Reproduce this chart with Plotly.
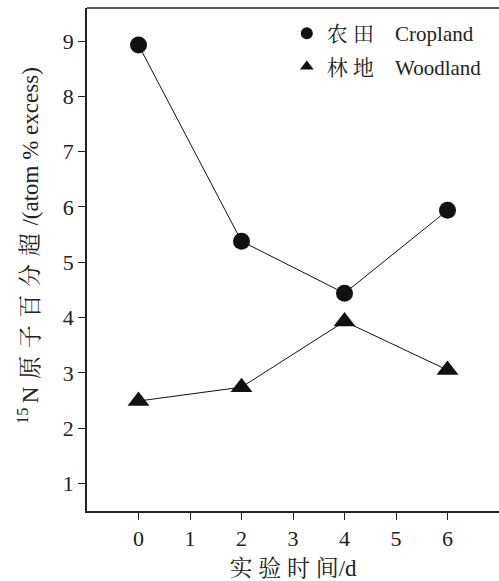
import plotly.graph_objects as go

days = [0, 2, 4, 6]
cropland = [8.93, 5.38, 4.44, 5.94]
woodland = [2.49, 2.74, 3.93, 3.05]
x_ticks = [0, 1, 2, 3, 4, 5, 6]
y_ticks = [1, 2, 3, 4, 5, 6, 7, 8, 9]
names = ["农 田\u2003Cropland", "林 地\u2003Woodland"]
x_title = "实 验 时 间/d"
S = "\u2004"
y_title = "<sup>15</sup>\u2009N" + S + S.join("原子百分超") + S + "/(atom % excess)"

FONT = "Liberation Serif, Times New Roman, Noto Serif CJK SC, Noto Sans CJK SC, serif"

fig = go.Figure()
fig.add_trace(go.Scatter(x=days, y=cropland, mode="lines+markers",
                         line=dict(color="#111", width=1),
                         marker=dict(symbol="circle", size=17, color="#111"),
                         showlegend=False))
fig.add_trace(go.Scatter(x=days, y=woodland, mode="lines+markers",
                         line=dict(color="#111", width=1),
                         marker=dict(symbol="triangle-up", size=19, color="#111"),
                         showlegend=False))
# legend-only traces
fig.add_trace(go.Scatter(x=[None], y=[None], mode="markers", name=names[0],
                         legendgroup="a",
                         marker=dict(symbol="circle", size=16, color="#111")))
fig.add_trace(go.Scatter(x=[None], y=[None], mode="markers", name=names[1],
                         legendgroup="b",
                         marker=dict(symbol="triangle-up", size=16, color="#111")))

fig.update_layout(
    width=499, height=581,
    margin=dict(l=87, r=0, t=8, b=70),
    paper_bgcolor="white", plot_bgcolor="white",
    font=dict(family=FONT, size=22, color="#222"),
    legend=dict(x=0.485, y=0.99, xanchor="left", yanchor="top",
                bgcolor="rgba(0,0,0,0)", font=dict(size=21),
                tracegroupgap=3, itemsizing="constant"),
    xaxis=dict(range=[-1, 7], tickvals=x_ticks, showgrid=False, zeroline=False,
               showline=True, linecolor="#222", linewidth=1.5,
               ticks="outside", ticklen=7, tickcolor="#222",
               tickfont=dict(size=22),
               title=dict(text=x_title, font=dict(size=23), standoff=10)),
    yaxis=dict(range=[0.5, 9.6], tickvals=y_ticks, showgrid=False, zeroline=False,
               showline=True, linecolor="#222", linewidth=1.5,
               ticks="outside", ticklen=7, tickcolor="#222",
               tickfont=dict(size=22)),
    annotations=[dict(text=y_title, xref="paper", yref="paper", x=0, y=0.527,
                      xshift=-58, xanchor="center", yanchor="middle",
                      textangle=-90, showarrow=False, font=dict(size=23))],
    shapes=[dict(type="line", xref="paper", yref="paper", x0=0, x1=1, y0=1, y1=1,
                 line=dict(color="#222", width=1.5))],
)

fig.write_html("out.html", config={"displayModeBar": False},
               post_script="document.body.style.margin='0';document.body.style.overflow='hidden';")
